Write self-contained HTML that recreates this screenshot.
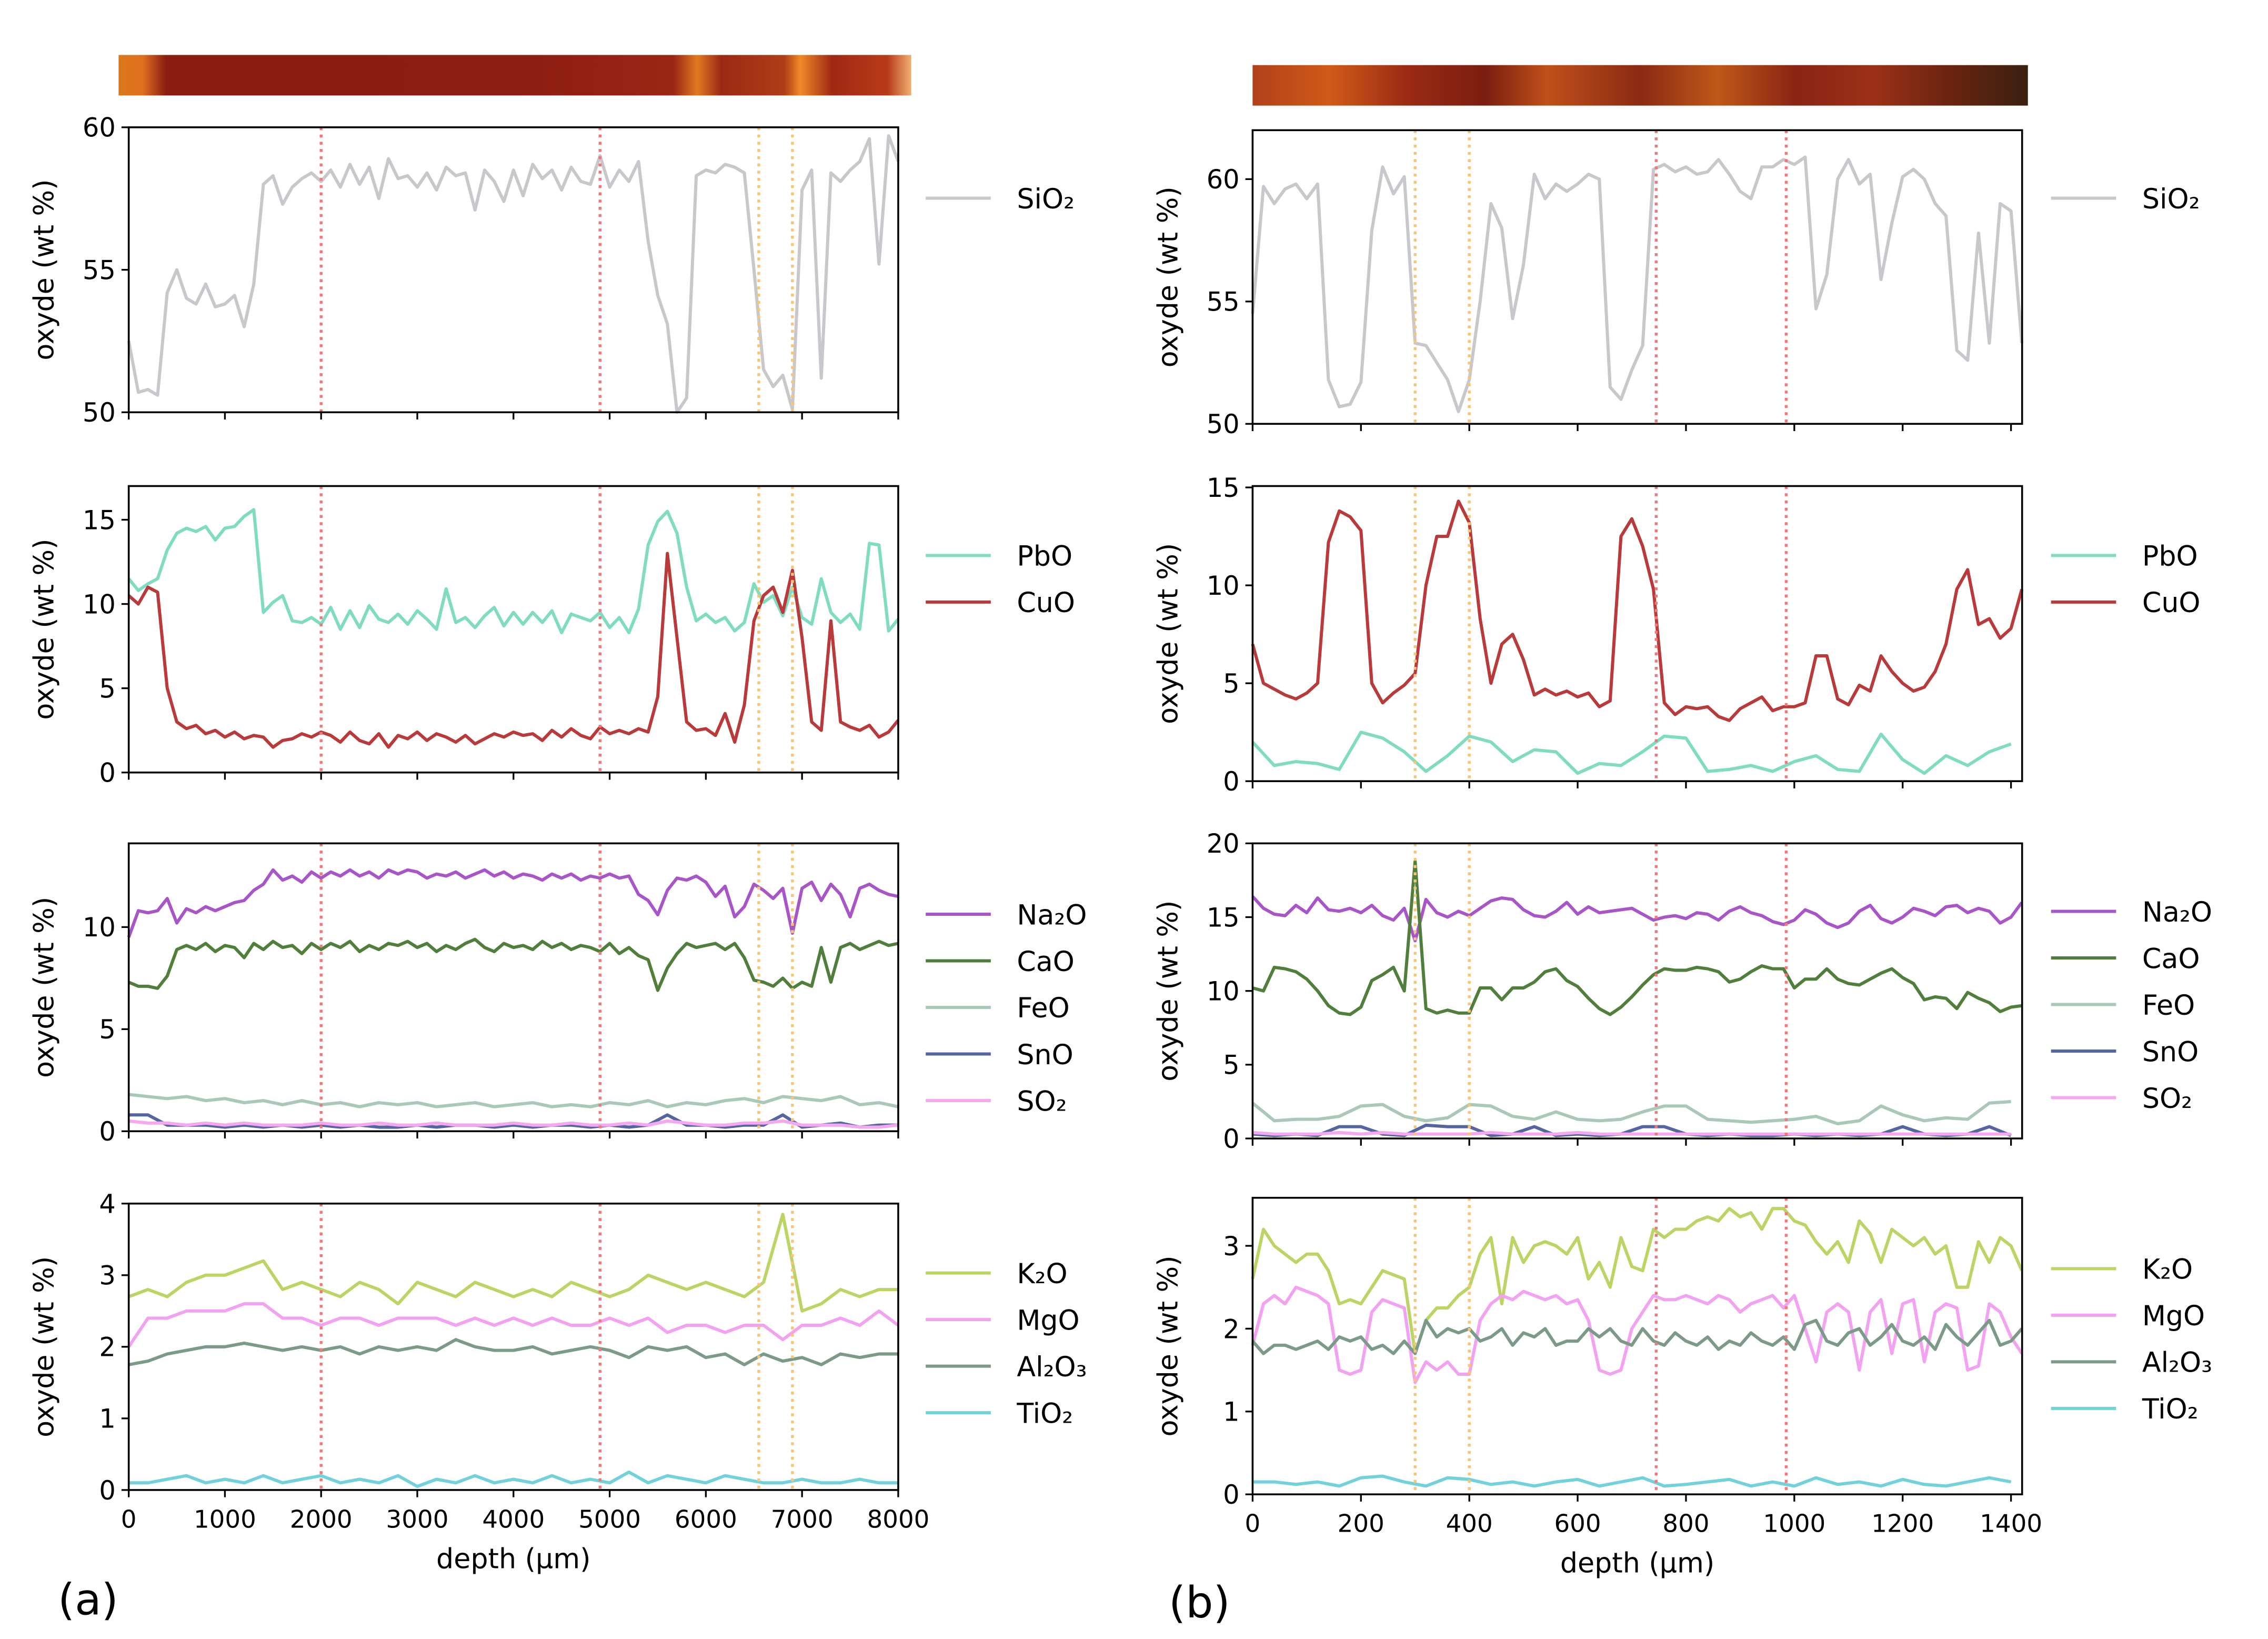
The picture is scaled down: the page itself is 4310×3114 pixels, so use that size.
<!DOCTYPE html>
<html><head><meta charset="utf-8"><style>
html,body{margin:0;padding:0;background:#fff;}
svg{display:block;font-family:"DejaVu Sans","Liberation Sans",sans-serif;}
</style></head><body>
<svg id="fig" width="4310" height="3114" viewBox="0 0 1568 1133" preserveAspectRatio="none" xmlns="http://www.w3.org/2000/svg">
<defs>
<linearGradient id="gl" x1="0" x2="1" y1="0" y2="0">
<stop offset="0" stop-color="#d9781a"/><stop offset="0.03" stop-color="#e07020"/><stop offset="0.06" stop-color="#8a1c10"/>
<stop offset="0.5" stop-color="#8c1d12"/><stop offset="0.7" stop-color="#9a2614"/><stop offset="0.73" stop-color="#e07a20"/>
<stop offset="0.76" stop-color="#9a2a14"/><stop offset="0.84" stop-color="#b03c16"/><stop offset="0.86" stop-color="#f08a28"/>
<stop offset="0.9" stop-color="#a02814"/><stop offset="0.97" stop-color="#b83a18"/><stop offset="1" stop-color="#f0b070"/>
</linearGradient>
<linearGradient id="gr" x1="0" x2="1" y1="0" y2="0">
<stop offset="0" stop-color="#b2401a"/><stop offset="0.1" stop-color="#d05a18"/><stop offset="0.2" stop-color="#9a2a14"/>
<stop offset="0.3" stop-color="#7a1e10"/><stop offset="0.38" stop-color="#c0501a"/><stop offset="0.5" stop-color="#8a2a14"/>
<stop offset="0.6" stop-color="#c05818"/><stop offset="0.7" stop-color="#8a2414"/><stop offset="0.8" stop-color="#9c3018"/>
<stop offset="0.9" stop-color="#6a2410"/><stop offset="1" stop-color="#3a2010"/>
</linearGradient>
</defs>
<rect x="82" y="38" width="548" height="28" fill="url(#gl)"/>
<rect x="866" y="45" width="536" height="28" fill="url(#gr)"/>
<text x="40" y="1116" font-size="30">(a)</text>
<text x="808" y="1118" font-size="30">(b)</text>
<text x="355" y="1084" font-size="19" text-anchor="middle">depth (µm)</text>
<text x="1132" y="1087" font-size="19" text-anchor="middle">depth (µm)</text>
</svg>
<script>
// ---- data: left (a) ----
const stepA = 100;
const a_SiO2=[52.5,50.7,50.8,50.6,54.2,55,54,53.8,54.5,53.7,53.8,54.1,53,54.5,58,58.3,57.3,57.9,58.2,58.4,58.1,58.5,57.9,58.7,58,58.6,57.5,58.9,58.2,58.3,57.9,58.4,57.8,58.6,58.3,58.4,57.1,58.5,58.1,57.4,58.5,57.6,58.7,58.2,58.5,57.8,58.6,58.1,58,59,57.9,58.5,58.1,58.8,56,54.1,53.1,50,50.5,58.3,58.5,58.4,58.7,58.6,58.4,55,51.5,50.9,51.3,50.1,57.8,58.5,51.2,58.4,58.1,58.5,58.8,59.6,55.2,59.7,58.8];
const a_PbO=[11.5,10.8,11.2,11.5,13.2,14.2,14.5,14.3,14.6,13.8,14.5,14.6,15.2,15.6,9.5,10.1,10.5,9,8.9,9.2,8.8,9.8,8.5,9.6,8.6,9.9,9.1,8.9,9.4,8.8,9.6,9.1,8.5,10.9,8.9,9.2,8.6,9.3,9.8,8.7,9.5,8.8,9.5,8.9,9.6,8.3,9.4,9.2,9.0,9.5,8.6,9.2,8.3,9.7,13.5,14.9,15.5,14.2,11,9,9.4,8.9,9.2,8.4,8.9,11.2,10.1,10.5,9.3,11,9.2,8.8,11.5,9.5,8.9,9.4,8.5,13.6,13.5,8.4,9.1];
const a_CuO=[10.5,10,11,10.7,5,3,2.6,2.8,2.3,2.5,2.1,2.4,2.0,2.2,2.1,1.5,1.9,2.0,2.3,2.1,2.4,2.2,1.8,2.4,1.9,1.7,2.3,1.5,2.2,2.0,2.4,1.9,2.3,2.1,1.8,2.2,1.7,2.0,2.3,2.1,2.4,2.2,2.3,1.9,2.5,2.1,2.6,2.2,2.0,2.7,2.3,2.5,2.3,2.6,2.4,4.5,13,8,3,2.5,2.6,2.2,3.5,1.8,4,9,10.5,11,9.5,12,8,3,2.5,9,3,2.7,2.5,2.8,2.1,2.4,3.1];
const a_Na2O=[9.5,10.8,10.7,10.8,11.4,10.2,10.9,10.7,11,10.8,11,11.2,11.3,11.8,12.1,12.8,12.3,12.5,12.2,12.7,12.4,12.7,12.5,12.8,12.5,12.7,12.4,12.8,12.6,12.8,12.7,12.4,12.6,12.5,12.7,12.4,12.6,12.8,12.5,12.7,12.4,12.6,12.5,12.3,12.6,12.4,12.6,12.3,12.5,12.4,12.6,12.4,12.5,11.6,11.3,10.6,11.8,12.4,12.3,12.5,12.2,11.5,12,10.5,11,12.1,11.8,11.4,11.9,9.7,11.9,12.2,11.3,12.1,11.6,10.5,11.9,12.1,11.8,11.6,11.5];
const a_CaO=[7.3,7.1,7.1,7.0,7.6,8.9,9.1,8.9,9.2,8.8,9.1,9.0,8.5,9.2,8.9,9.3,9.0,9.1,8.7,9.2,8.9,9.2,9.0,9.3,8.8,9.1,8.9,9.2,9.1,9.3,9.0,9.2,8.8,9.1,8.9,9.2,9.4,9.0,8.8,9.2,9.0,9.1,8.9,9.3,9.0,9.2,8.9,9.1,9.0,8.8,9.2,8.7,9.0,8.6,8.4,6.9,8.0,8.7,9.2,9.0,9.1,9.2,8.9,9.2,8.5,7.4,7.3,7.1,7.5,7.0,7.3,7.1,9,7.3,9.0,9.2,8.9,9.1,9.3,9.1,9.2];
const stepA2 = 200;
const a_FeO=[1.8,1.7,1.6,1.7,1.5,1.6,1.4,1.5,1.3,1.5,1.3,1.4,1.2,1.4,1.3,1.4,1.2,1.3,1.4,1.2,1.3,1.4,1.2,1.3,1.2,1.4,1.3,1.5,1.2,1.4,1.3,1.5,1.6,1.4,1.7,1.6,1.5,1.7,1.3,1.4,1.2];
const a_SnO=[0.8,0.8,0.3,0.3,0.3,0.2,0.3,0.2,0.3,0.2,0.3,0.2,0.3,0.2,0.2,0.3,0.2,0.3,0.3,0.2,0.3,0.2,0.3,0.3,0.2,0.3,0.2,0.3,0.8,0.3,0.3,0.2,0.3,0.3,0.8,0.2,0.3,0.4,0.2,0.3,0.3];
const a_SO2=[0.5,0.4,0.4,0.3,0.4,0.3,0.4,0.3,0.3,0.3,0.4,0.3,0.3,0.4,0.3,0.3,0.4,0.3,0.3,0.3,0.4,0.3,0.3,0.4,0.3,0.3,0.4,0.3,0.5,0.4,0.3,0.3,0.4,0.4,0.5,0.3,0.3,0.3,0.2,0.2,0.3];
const a_K2O=[2.7,2.8,2.7,2.9,3.0,3.0,3.1,3.2,2.8,2.9,2.8,2.7,2.9,2.8,2.6,2.9,2.8,2.7,2.9,2.8,2.7,2.8,2.7,2.9,2.8,2.7,2.8,3.0,2.9,2.8,2.9,2.8,2.7,2.9,3.85,2.5,2.6,2.8,2.7,2.8,2.8];
const a_MgO=[2.0,2.4,2.4,2.5,2.5,2.5,2.6,2.6,2.4,2.4,2.3,2.4,2.4,2.3,2.4,2.4,2.4,2.3,2.4,2.3,2.4,2.3,2.4,2.3,2.3,2.4,2.3,2.4,2.2,2.3,2.3,2.2,2.3,2.3,2.1,2.3,2.3,2.4,2.3,2.5,2.3];
const a_Al2O3=[1.75,1.8,1.9,1.95,2.0,2.0,2.05,2.0,1.95,2.0,1.95,2.0,1.9,2.0,1.95,2.0,1.95,2.1,2.0,1.95,1.95,2.0,1.9,1.95,2.0,1.95,1.85,2.0,1.95,2.0,1.85,1.9,1.75,1.9,1.8,1.85,1.75,1.9,1.85,1.9,1.9];
const a_TiO2=[0.1,0.1,0.15,0.2,0.1,0.15,0.1,0.2,0.1,0.15,0.2,0.1,0.15,0.1,0.2,0.05,0.15,0.1,0.2,0.1,0.15,0.1,0.2,0.1,0.15,0.1,0.25,0.1,0.2,0.15,0.1,0.2,0.15,0.1,0.1,0.15,0.1,0.1,0.15,0.1,0.1];
const a_redLines=[2000,4900];
const a_orangeLines=[6550,6900];
const a_xticks=[0,1000,2000,3000,4000,5000,6000,7000,8000];
// ---- data: right (b) ----
const stepB = 20;
const b_SiO2=[54.5,59.7,59.0,59.6,59.8,59.2,59.8,51.8,50.7,50.8,51.7,57.9,60.5,59.4,60.1,53.3,53.2,52.5,51.8,50.5,51.8,55,59,58,54.3,56.5,60.2,59.2,59.8,59.5,59.8,60.2,60,51.5,51.0,52.2,53.2,60.4,60.6,60.3,60.5,60.2,60.3,60.8,60.2,59.5,59.2,60.5,60.5,60.8,60.6,60.9,54.7,56.1,60,60.8,59.8,60.2,55.9,58.2,60.1,60.4,60,59,58.5,53,52.6,57.8,53.3,59,58.7,53.3];
const b_CuO=[7,5,4.7,4.4,4.2,4.5,5,12.2,13.8,13.5,12.8,5,4,4.5,4.9,5.5,10,12.5,12.5,14.3,13.2,8.3,5,7,7.5,6.2,4.4,4.7,4.4,4.6,4.3,4.5,3.8,4.1,12.5,13.4,12,9.8,4,3.4,3.8,3.7,3.8,3.3,3.1,3.7,4,4.3,3.6,3.8,3.8,4,6.4,6.4,4.2,3.9,4.9,4.6,6.4,5.6,5,4.6,4.8,5.6,7,9.8,10.8,8,8.3,7.3,7.8,9.8];
const b_Na2O=[16.4,15.6,15.2,15.1,15.8,15.3,16.3,15.5,15.4,15.6,15.3,15.8,15.1,14.8,15.6,13.4,16.2,15.3,15.0,15.4,15.1,15.6,16.1,16.3,16.2,15.5,15.1,15.0,15.4,16.0,15.2,15.7,15.3,15.4,15.5,15.6,15.2,14.8,15.0,15.1,14.9,15.3,15.2,14.8,15.4,15.7,15.3,15.1,14.7,14.5,14.8,15.5,15.2,14.6,14.3,14.6,15.4,15.8,14.9,14.6,15.0,15.6,15.4,15.1,15.7,15.8,15.3,15.6,15.4,14.6,15.0,16.0];
const b_CaO=[10.2,10.0,11.6,11.5,11.3,10.8,10.0,9.0,8.5,8.4,8.9,10.7,11.1,11.6,10.0,18.8,8.8,8.5,8.7,8.5,8.5,10.2,10.2,9.4,10.2,10.2,10.6,11.3,11.5,10.7,10.3,9.5,8.8,8.4,8.9,9.6,10.4,11.1,11.5,11.4,11.4,11.6,11.5,11.3,10.6,10.8,11.3,11.7,11.5,11.5,10.2,10.8,10.8,11.5,10.8,10.5,10.4,10.8,11.2,11.5,10.9,10.5,9.4,9.6,9.5,8.8,9.9,9.5,9.2,8.6,8.9,9.0];
const b_K2O=[2.6,3.2,3.0,2.9,2.8,2.9,2.9,2.7,2.3,2.35,2.3,2.5,2.7,2.65,2.6,1.7,2.1,2.25,2.25,2.4,2.5,2.9,3.1,2.3,3.1,2.8,3.0,3.05,3.0,2.9,3.1,2.6,2.8,2.5,3.1,2.75,2.7,3.2,3.1,3.2,3.2,3.3,3.35,3.3,3.45,3.35,3.4,3.2,3.45,3.45,3.3,3.25,3.05,2.9,3.05,2.8,3.3,3.15,2.8,3.2,3.1,3.0,3.1,2.9,3.0,2.5,2.5,3.05,2.8,3.1,3.0,2.7];
const b_MgO=[1.8,2.3,2.4,2.3,2.5,2.45,2.4,2.3,1.5,1.45,1.5,2.2,2.35,2.3,2.25,1.35,1.6,1.5,1.6,1.45,1.45,2.1,2.3,2.4,2.35,2.45,2.4,2.35,2.4,2.3,2.35,2.1,1.5,1.45,1.5,2.0,2.2,2.4,2.35,2.35,2.4,2.35,2.3,2.4,2.35,2.2,2.3,2.35,2.4,2.25,2.4,2.0,1.6,2.2,2.3,2.2,1.5,2.2,2.35,1.7,2.3,2.35,1.6,2.2,2.3,2.25,1.5,1.55,2.3,2.2,1.9,1.7];
const b_Al2O3=[1.85,1.7,1.8,1.8,1.75,1.8,1.85,1.75,1.9,1.85,1.9,1.75,1.8,1.7,1.85,1.7,2.1,1.9,2.0,1.95,2.0,1.85,1.9,2.0,1.8,1.95,1.9,2.0,1.8,1.85,1.85,2.0,1.9,2.0,1.85,1.8,2.0,1.85,1.8,1.95,1.85,1.8,1.9,1.75,1.85,1.8,1.95,1.85,1.8,1.9,1.75,2.05,2.1,1.85,1.8,1.95,2.0,1.8,1.9,2.05,1.85,1.8,1.9,1.75,2.05,1.9,1.8,1.95,2.1,1.8,1.85,2.0];
const stepB2 = 40;
const b_PbO=[2.0,0.8,1.0,0.9,0.6,2.5,2.2,1.5,0.5,1.3,2.3,2.0,1.0,1.6,1.5,0.4,0.9,0.8,1.5,2.3,2.2,0.5,0.6,0.8,0.5,1.0,1.3,0.6,0.5,2.4,1.1,0.4,1.3,0.8,1.5,1.9];
const b_FeO=[2.4,1.2,1.3,1.3,1.5,2.2,2.3,1.5,1.2,1.4,2.3,2.2,1.5,1.3,1.8,1.3,1.2,1.3,1.8,2.2,2.2,1.3,1.2,1.1,1.2,1.3,1.5,1.0,1.2,2.2,1.6,1.2,1.4,1.3,2.4,2.5];
const b_SnO=[0.3,0.2,0.3,0.2,0.8,0.8,0.3,0.2,0.9,0.8,0.8,0.2,0.3,0.8,0.2,0.3,0.2,0.3,0.8,0.8,0.3,0.2,0.3,0.2,0.2,0.3,0.2,0.3,0.2,0.3,0.8,0.3,0.2,0.3,0.8,0.2];
const b_SO2=[0.4,0.3,0.3,0.3,0.4,0.3,0.4,0.3,0.3,0.3,0.3,0.4,0.3,0.3,0.3,0.4,0.3,0.3,0.3,0.3,0.3,0.3,0.3,0.3,0.3,0.3,0.3,0.3,0.3,0.3,0.3,0.3,0.3,0.3,0.3,0.3];
const b_TiO2=[0.15,0.15,0.12,0.15,0.1,0.2,0.22,0.15,0.1,0.2,0.18,0.12,0.15,0.1,0.15,0.18,0.1,0.15,0.2,0.1,0.12,0.15,0.18,0.1,0.15,0.1,0.2,0.12,0.15,0.1,0.18,0.12,0.1,0.15,0.2,0.15];
const b_redLines=[745,985];
const b_orangeLines=[300,400];
const b_xticks=[0,200,400,600,800,1000,1200,1400];

const C={SiO2:'#c8c8cc',PbO:'#80dcc0',CuO:'#b83a3a',Na2O:'#a855c8',CaO:'#4f7f3a',FeO:'#a8c8b8',SnO:'#5565a0',SO2:'#f5a8f0',K2O:'#bcd464',MgO:'#f2a2f0',Al2O3:'#7c9a88',TiO2:'#72d2dc'};
const LBL={SiO2:'SiO₂',PbO:'PbO',CuO:'CuO',Na2O:'Na₂O',CaO:'CaO',FeO:'FeO',SnO:'SnO',SO2:'SO₂',K2O:'K₂O',MgO:'MgO',Al2O3:'Al₂O₃',TiO2:'TiO₂'};
const NS='http://www.w3.org/2000/svg';
const svg=document.getElementById('fig');
function mk(tag,at,parent){const e=document.createElementNS(NS,tag);for(const k in at)e.setAttribute(k,at[k]);(parent||svg).appendChild(e);return e;}

function panel(p){
  const g=mk('g',{});
  
  
  const sx=v=>p.x0+(v-p.xmin)/(p.xmax-p.xmin)*(p.x1-p.x0);
  const sy=v=>p.y0-(v-p.ymin)/(p.ymax-p.ymin)*(p.y0-p.y1);
  // series
  p.series.forEach(s=>{
    let d='';
    s.vals.forEach((v,i)=>{const x=sx(i*s.step);if(x>p.x1+0.5)return;d+=(i?'L':'M')+x.toFixed(2)+','+sy(v).toFixed(2);});
    const pa=mk('path',{d:d,fill:'none',stroke:C[s.key],'stroke-width':2.2,'stroke-linejoin':'round'},g);
    
    
  });
  // vertical lines
  p.red.forEach(v=>{const l=mk('line',{x1:sx(v),x2:sx(v),y1:p.y1,y2:p.y0,stroke:'#f07878','stroke-width':2,'stroke-dasharray':'2,3'},g);
    
    });
  p.orange.forEach(v=>{const l=mk('line',{x1:sx(v),x2:sx(v),y1:p.y1,y2:p.y0,stroke:'#f8c478','stroke-width':2,'stroke-dasharray':'2,3'},g);
    
    });
  const fr=mk('rect',{x:p.x0,y:p.y1,width:p.x1-p.x0,height:p.y0-p.y1,fill:'none',stroke:'#000','stroke-width':1.3},g);
  
  
  // y ticks
  p.yticks.forEach(v=>{const y=sy(v);mk('line',{x1:p.x0-5,x2:p.x0,y1:y,y2:y,stroke:'#000','stroke-width':1.2},g);
    const t=mk('text',{x:p.x0-9,y:y+6.5,'font-size':18,'text-anchor':'end'},g);t.textContent=v;
    
    });
  // x ticks
  p.xticks.forEach(v=>{const x=sx(v);mk('line',{x1:x,x2:x,y1:p.y0,y2:p.y0+5,stroke:'#000','stroke-width':1.2},g);
    if(p.showX){const t=mk('text',{x:x,y:p.y0+26,'font-size':p.xfs,'text-anchor':'middle'},g);t.textContent=v;
      
      }});
  // y label
  const cy=(p.y0+p.y1)/2;
  const yl=mk('text',{x:p.ylx,y:cy,'font-size':19,'text-anchor':'middle',transform:'rotate(-90 '+p.ylx+' '+cy+')'},g);
  yl.textContent='oxyde (wt %)';
  
  
  // legend
  p.series.forEach((s,i)=>{const y=p.legY+i*32.2;
    const lg=mk('g',{},g);
    
    
    mk('line',{x1:p.legX,x2:p.legX+45,y1:y,y2:y,stroke:C[s.key],'stroke-width':2.2},lg);
    const t=mk('text',{x:p.legX+63,y:y+7,'font-size':19},lg);t.textContent=LBL[s.key];});
}
function S(key,vals,step){return {key:key,vals:vals,step:step};}
const L={x0:89,x1:621,xmin:0,xmax:8000,red:a_redLines,orange:a_orangeLines,xticks:a_xticks,ylx:37,legX:640,xfs:17};
const R={x0:866,x1:1398,xmin:0,xmax:1420.5,red:b_redLines,orange:b_orangeLines,xticks:b_xticks,ylx:814,legX:1418,xfs:17};
panel(Object.assign({},L,{name:'panel-a-sio2',y0:285,y1:88,ymin:50,ymax:60,yticks:[50,55,60],legY:137,series:[S('SiO2',a_SiO2,stepA)]}));
panel(Object.assign({},L,{name:'panel-a-pbo-cuo',y0:534,y1:336,ymin:0,ymax:17,yticks:[0,5,10,15],legY:384,series:[S('PbO',a_PbO,stepA),S('CuO',a_CuO,stepA)]}));
panel(Object.assign({},L,{name:'panel-a-fluxes',y0:782,y1:583,ymin:0,ymax:14.1,yticks:[0,5,10],legY:632,series:[S('Na2O',a_Na2O,stepA),S('CaO',a_CaO,stepA),S('FeO',a_FeO,stepA2),S('SnO',a_SnO,stepA2),S('SO2',a_SO2,stepA2)]}));
panel(Object.assign({},L,{name:'panel-a-minor',y0:1030,y1:832,ymin:0,ymax:4,yticks:[0,1,2,3,4],legY:880,showX:true,series:[S('K2O',a_K2O,stepA2),S('MgO',a_MgO,stepA2),S('Al2O3',a_Al2O3,stepA2),S('TiO2',a_TiO2,stepA2)]}));
panel(Object.assign({},R,{name:'panel-b-sio2',y0:293,y1:90,ymin:50,ymax:62.0,yticks:[50,55,60],legY:137,series:[S('SiO2',b_SiO2,stepB)]}));
panel(Object.assign({},R,{name:'panel-b-pbo-cuo',y0:540,y1:336,ymin:0,ymax:15.07,yticks:[0,5,10,15],legY:384,series:[S('PbO',b_PbO,stepB2),S('CuO',b_CuO,stepB)]}));
panel(Object.assign({},R,{name:'panel-b-fluxes',y0:787,y1:583,ymin:0,ymax:20,yticks:[0,5,10,15,20],legY:630,series:[S('Na2O',b_Na2O,stepB),S('CaO',b_CaO,stepB),S('FeO',b_FeO,stepB2),S('SnO',b_SnO,stepB2),S('SO2',b_SO2,stepB2)]}));
panel(Object.assign({},R,{name:'panel-b-minor',y0:1033,y1:828,ymin:0,ymax:3.58,yticks:[0,1,2,3],legY:877,showX:true,series:[S('K2O',b_K2O,stepB),S('MgO',b_MgO,stepB),S('Al2O3',b_Al2O3,stepB),S('TiO2',b_TiO2,stepB2)]}));
</script>
</body></html>
